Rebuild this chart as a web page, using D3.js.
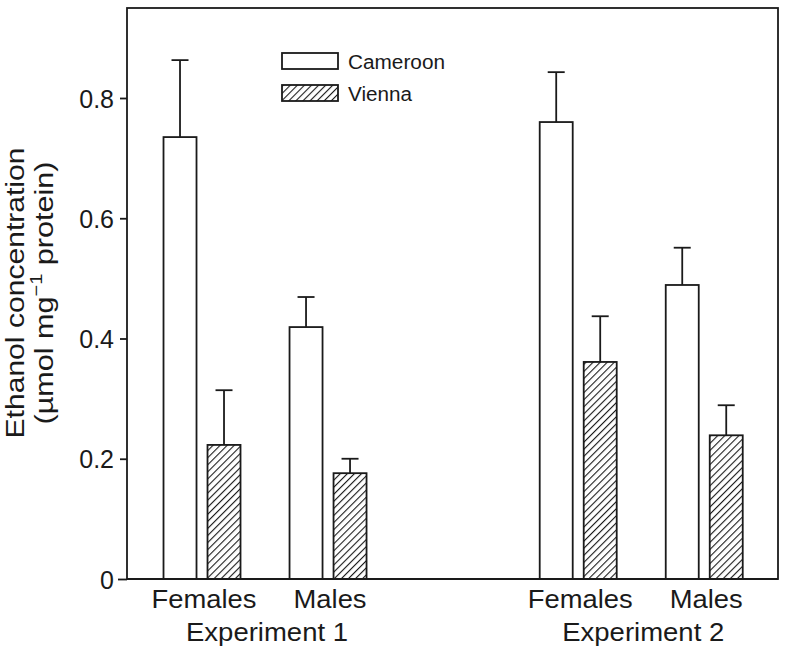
<!DOCTYPE html>
<html>
<head>
<meta charset="utf-8">
<script src="https://cdn.jsdelivr.net/npm/d3@7"></script>
<style>
  html, body { margin: 0; padding: 0; background: #fff; }
  svg { display: block; font-family: "Liberation Sans", Arial, Helvetica, sans-serif; }
</style>
</head>
<body>
<svg id="chart" width="791" height="654"></svg>
<script>
// ---- data ----
const experiments = ["Experiment 1", "Experiment 2"];
const sexes = ["Females", "Males"];
const populations = ["Cameroon", "Vienna"];
// order: Exp1 Females, Exp1 Males, Exp2 Females, Exp2 Males
const cameroonMeans = [0.735, 0.419, 0.760, 0.489];
const cameroonSE    = [0.128, 0.050, 0.083, 0.062];
const viennaMeans   = [0.223, 0.176, 0.361, 0.239];
const viennaSE      = [0.091, 0.024, 0.076, 0.050];
const yTicks = [0, 0.2, 0.4, 0.6, 0.8];
const yTickLabels = ["0", "0.2", "0.4", "0.6", "0.8"];

const rows = [];
experiments.forEach((exp, ei) => {
  sexes.forEach((sex, si) => {
    const i = ei * 2 + si;
    rows.push({exp, sex, pop: "Cameroon", mean: cameroonMeans[i], se: cameroonSE[i]});
    rows.push({exp, sex, pop: "Vienna", mean: viennaMeans[i], se: viennaSE[i]});
  });
});

// ---- layout ----
const ink = "#1a1a1a";
const frame = {left: 127, right: 778, top: 8, bottom: 579};
const svg = d3.select("#chart");

const y = d3.scaleLinear().domain([0, 0.8]).range([frame.bottom, 98]);
const xExp = d3.scaleBand().domain(experiments).range([139, 767.25]).paddingInner(0.33).paddingOuter(0);
const xSex = d3.scaleBand().domain(sexes).range([0, xExp.bandwidth()]).padding(0);
const pairW = 77;
const xPop = d3.scaleBand().domain(populations)
  .range([xSex.bandwidth() / 2 - pairW / 2, xSex.bandwidth() / 2 + pairW / 2])
  .paddingInner(0.25).paddingOuter(0);

// hatch pattern
const defs = svg.append("defs");
const pat = defs.append("pattern")
  .attr("id", "hatch").attr("patternUnits", "userSpaceOnUse")
  .attr("width", 5).attr("height", 5)
  .attr("patternTransform", "rotate(45)");
pat.append("rect").attr("width", 5).attr("height", 5).attr("fill", "#fff");
pat.append("line").attr("x1", 0).attr("y1", 0).attr("x2", 0).attr("y2", 5)
  .attr("stroke", ink).attr("stroke-width", 2.2);

const fillFor = p => p === "Cameroon" ? "#fff" : "url(#hatch)";

// frame
svg.append("rect")
  .attr("x", frame.left).attr("y", frame.top)
  .attr("width", frame.right - frame.left).attr("height", frame.bottom - frame.top)
  .attr("fill", "none").attr("stroke", ink).attr("stroke-width", 1.8);

// y axis
const yAxis = d3.axisLeft(y).tickValues(yTicks)
  .tickFormat((d, i) => yTickLabels[i]).tickSize(7).tickPadding(6);
const gY = svg.append("g").attr("transform", `translate(${frame.left},0)`).call(yAxis);
gY.select(".domain").remove();
gY.selectAll(".tick line").attr("stroke", ink).attr("stroke-width", 1.8);
gY.selectAll(".tick text").attr("fill", ink).attr("font-size", 25)
  .attr("font-family", "'Liberation Sans', Arial, sans-serif").attr("dy", "0.36em");
gY.selectAll(".tick").filter(d => d === 0).select("line").attr("x2", -9);

// bars
const barX = d => xExp(d.exp) + xSex(d.sex) + xPop(d.pop);
const bars = svg.append("g");
bars.selectAll("rect").data(rows).join("rect")
  .attr("x", barX)
  .attr("y", d => y(d.mean))
  .attr("width", xPop.bandwidth())
  .attr("height", d => y(0) - y(d.mean))
  .attr("fill", d => fillFor(d.pop))
  .attr("stroke", ink).attr("stroke-width", 1.8);

// error bars (upper only)
const capHalf = 8.5;
const eb = svg.append("g").attr("stroke", ink).attr("stroke-width", 1.8);
eb.selectAll("line.v").data(rows).join("line").attr("class", "v")
  .attr("x1", d => barX(d) + xPop.bandwidth() / 2)
  .attr("x2", d => barX(d) + xPop.bandwidth() / 2)
  .attr("y1", d => y(d.mean))
  .attr("y2", d => y(d.mean + d.se));
eb.selectAll("line.c").data(rows).join("line").attr("class", "c")
  .attr("x1", d => barX(d) + xPop.bandwidth() / 2 - capHalf)
  .attr("x2", d => barX(d) + xPop.bandwidth() / 2 + capHalf)
  .attr("y1", d => y(d.mean + d.se))
  .attr("y2", d => y(d.mean + d.se));

// redraw baseline on top
svg.append("line").attr("x1", frame.left).attr("x2", frame.right)
  .attr("y1", frame.bottom).attr("y2", frame.bottom)
  .attr("stroke", ink).attr("stroke-width", 1.8);

// category labels
const sexLabelW = {Females: 105, Males: 73};
experiments.forEach(exp => {
  sexes.forEach(sex => {
    const cx = xExp(exp) + xSex(sex) + xSex.bandwidth() / 2 + 2;
    svg.append("text").attr("x", cx).attr("y", 608)
      .attr("text-anchor", "middle").attr("font-size", 25).attr("fill", ink)
      .attr("textLength", sexLabelW[sex]).attr("lengthAdjust", "spacingAndGlyphs")
      .text(sex);
  });
  const cx = xExp(exp) + xExp.bandwidth() / 2 + 2;
  svg.append("text").attr("x", cx).attr("y", 641)
    .attr("text-anchor", "middle").attr("font-size", 25).attr("fill", ink)
    .attr("textLength", 162).attr("lengthAdjust", "spacingAndGlyphs")
    .text(exp);
});

// y label
const yl = svg.append("g").attr("transform", "translate(0,293) rotate(-90)");
yl.append("text").attr("x", 0).attr("y", 24)
  .attr("text-anchor", "middle").attr("font-size", 26).attr("fill", ink)
  .attr("textLength", 291).attr("lengthAdjust", "spacingAndGlyphs")
  .text("Ethanol concentration");
const l2 = yl.append("text").attr("x", 0).attr("y", 53)
  .attr("text-anchor", "middle").attr("font-size", 26).attr("fill", ink)
  .attr("textLength", 263).attr("lengthAdjust", "spacingAndGlyphs");
l2.append("tspan").text("(\u00b5mol mg");
l2.append("tspan").attr("font-size", 17).attr("dy", -11).text("\u22121");
l2.append("tspan").attr("dy", 11).text(" protein)");

// legend
const legend = svg.append("g");
const legendRows = [{pop: "Cameroon", y: 53}, {pop: "Vienna", y: 85}];
legendRows.forEach(r => {
  legend.append("rect").attr("x", 282).attr("y", r.y).attr("width", 56).attr("height", 16)
    .attr("fill", fillFor(r.pop)).attr("stroke", ink).attr("stroke-width", 1.8);
  legend.append("text").attr("x", 348).attr("y", r.y + 16)
    .attr("font-size", 20).attr("fill", ink)
    .attr("textLength", r.pop === "Cameroon" ? 97 : 64).attr("lengthAdjust", "spacingAndGlyphs")
    .text(r.pop);
});
</script>
</body>
</html>
